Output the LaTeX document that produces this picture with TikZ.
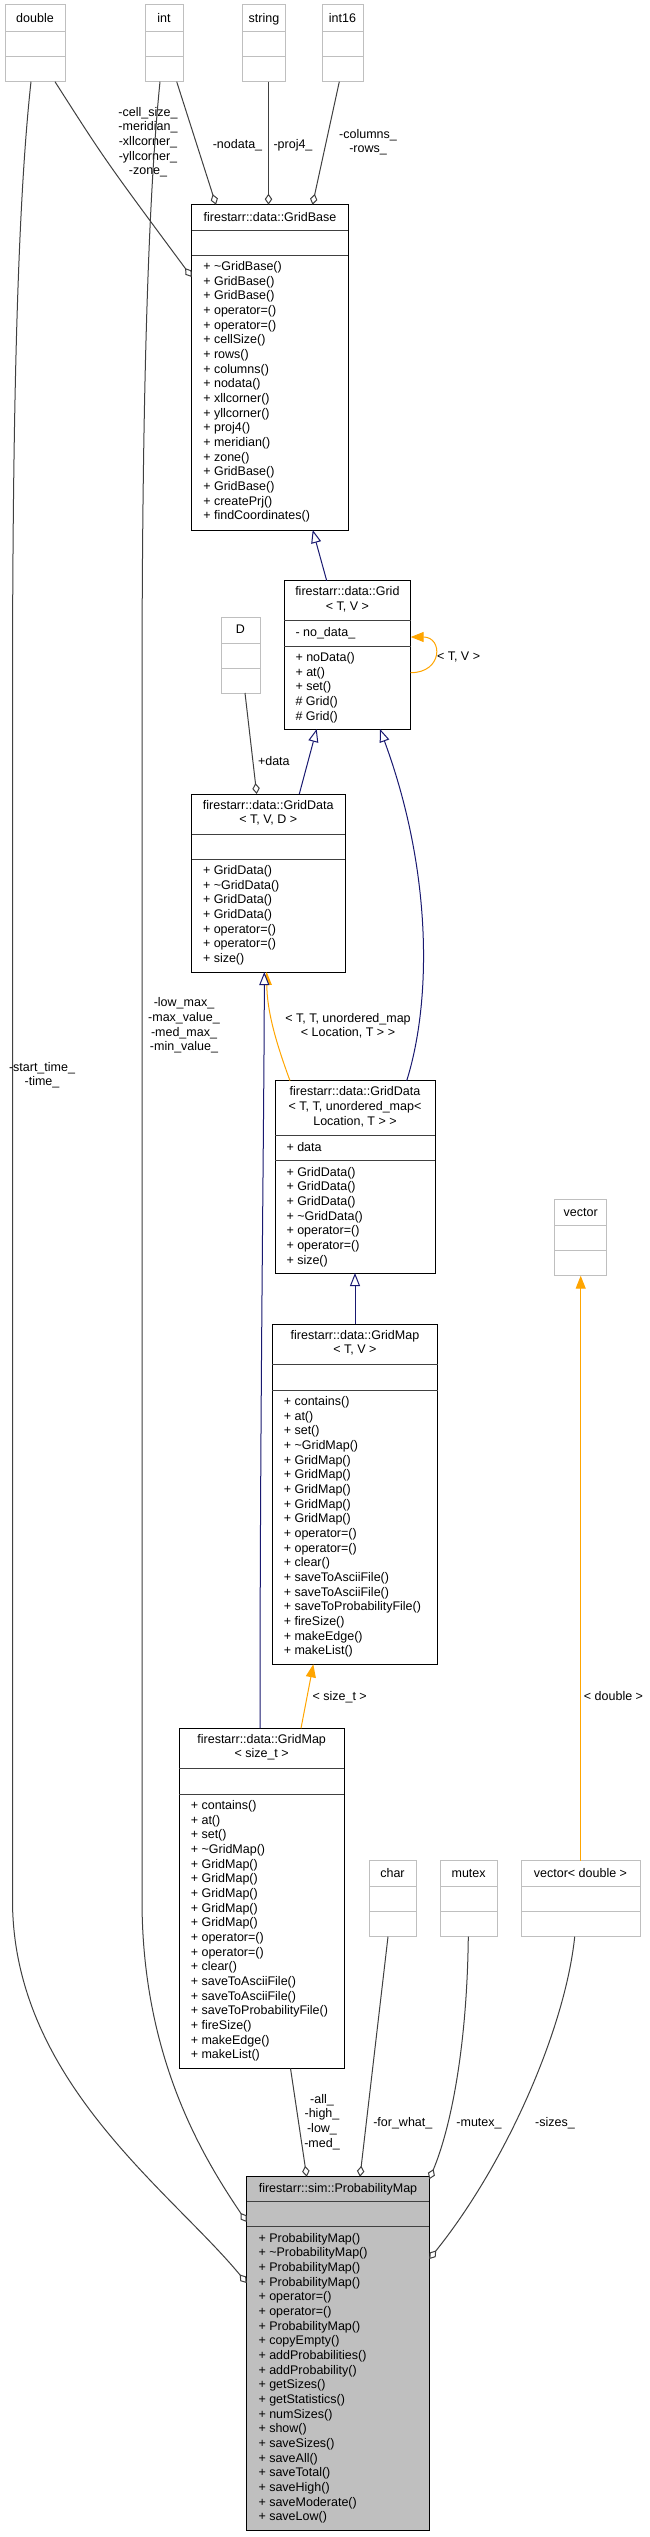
\documentclass[tikz,border=0pt]{standalone}
\usepackage{fontspec}
\setmainfont{Liberation Sans}
\usetikzlibrary{arrows.meta,calc}
\newcommand\dfont{\fontsize{12.5pt}{14.67pt}\selectfont}
\definecolor{boxgray}{HTML}{BFBFBF}
\definecolor{pmgray}{HTML}{BFBFBF}
\definecolor{sepgray}{HTML}{404040}
\definecolor{aggcol}{HTML}{404040}
\definecolor{inhcol}{HTML}{191970}
\definecolor{tmplcol}{HTML}{FFA500}
% name, style, x1, y1, x2, y2, sep1, sep2
\newcommand\clsbox[8]{%
  \node[#2, anchor=north west, minimum width={#5-#3}, minimum height={#6-#4}] (#1) at (#3,#4) {};
  \draw[#2 sep] (#3,#7) -- (#5,#7) (#3,#8) -- (#5,#8);
}
\tikzset{
  gbox/.style={draw=boxgray, line width=1pt, inner sep=0pt, outer sep=0pt, fill=white},
  gbox sep/.style={draw=boxgray, line width=1pt},
  cbox/.style={draw=black, line width=1pt, inner sep=0pt, outer sep=0pt, fill=white},
  cbox sep/.style={draw=sepgray, line width=1pt},
  pbox/.style={draw=black, line width=1pt, inner sep=0pt, outer sep=0pt, fill=pmgray},
  pbox sep/.style={draw=sepgray, line width=1pt},
  txt/.style={inner sep=0pt, outer sep=0pt, font=\dfont, align=center, anchor=north, execute at begin node=\strut},
  mem/.style={txt, align=left, anchor=north west},
  agg/.style={draw=aggcol, line width=1pt, -{Diamond[length=11pt,width=7.5pt,fill=white]}},
  inh/.style={draw=inhcol, line width=1pt, -{Triangle[length=13pt,width=10pt,fill=white]}},
  tmpl/.style={draw=tmplcol, line width=1pt, -{Triangle[length=13pt,width=10pt,fill=tmplcol]}},
}
\begin{document}
\begin{tikzpicture}[x=1pt, y=-1pt]
\fill[white] (0,0) rectangle (650,2537);
\useasboundingbox (0,0) rectangle (650,2537);

% ---------- external type boxes ----------
\clsbox{dbl}{gbox}{5}{5}{65}{81.7}{31.7}{56.7}
\node[txt] (tdbl) at (35,11.75) {double};
\clsbox{int}{gbox}{145}{5}{183}{81.7}{31.7}{56.7}
\node[txt] (tint) at (164,11.75) {int};
\clsbox{str}{gbox}{242.3}{5}{285.7}{81.7}{31.7}{56.7}
\node[txt] (tstr) at (264,11.75) {string};
\clsbox{i16}{gbox}{322}{5}{363}{81.7}{31.7}{56.7}
\node[txt] (ti16) at (342.5,11.75) {int16};

% ---------- GridBase ----------
\clsbox{gb}{cbox}{191.7}{204.7}{348.3}{530}{230}{255}
\node[txt] (tgb) at (270,210.75) {firestarr::data::GridBase};
\node[mem] (mgb) at (203.3,261.4) {+ \textasciitilde GridBase()\\+ GridBase()\\+ GridBase()\\+ operator=()\\+ operator=()\\+ cellSize()\\+ rows()\\+ columns()\\+ nodata()\\+ xllcorner()\\+ yllcorner()\\+ proj4()\\+ meridian()\\+ zone()\\+ GridBase()\\+ GridBase()\\+ createPrj()\\+ findCoordinates()};

% ---------- Grid ----------
\clsbox{grid}{cbox}{284}{580.7}{410.7}{729}{620}{646}
\node[txt] (tgrid) at (347.35,586.4) {firestarr::data::Grid\\< T, V >};
\node[mem] (agrid) at (295.5,626.4) {- no\_data\_};
\node[mem] (mgrid) at (295.5,652.4) {+ noData()\\+ at()\\+ set()\\\# Grid()\\\# Grid()};

% ---------- D ----------
\clsbox{dd}{gbox}{221}{617}{260}{693}{643}{668}
\node[txt] (tdd) at (240.5,623.4) {D};

% ---------- GridData<T,V,D> ----------
\clsbox{gd1}{cbox}{191.5}{794}{345}{972}{834}{859}
\node[txt] (tgd1) at (268.25,800.1) {firestarr::data::GridData\\< T, V, D >};
\node[mem] (mgd1) at (203,865.4) {+ GridData()\\+ \textasciitilde GridData()\\+ GridData()\\+ GridData()\\+ operator=()\\+ operator=()\\+ size()};

% ---------- GridData<T,T,unordered_map<...>> ----------
\clsbox{gd2}{cbox}{275}{1080.7}{435}{1273}{1135}{1160.7}
\node[txt] (tgd2) at (355,1086.6) {firestarr::data::GridData\\< T, T, unordered\_map<\\Location, T > >};
\node[mem] (agd2) at (286.5,1141.4) {+ data};
\node[mem] (mgd2) at (286.5,1167.1) {+ GridData()\\+ GridData()\\+ GridData()\\+ \textasciitilde GridData()\\+ operator=()\\+ operator=()\\+ size()};

% ---------- GridMap<T,V> ----------
\clsbox{gmtv}{cbox}{272.3}{1324.3}{437.7}{1664.3}{1364}{1390}
\node[txt] (tgmtv) at (355,1330.2) {firestarr::data::GridMap\\< T, V >};
\node[mem] (mgmtv) at (283.8,1396.4) {+ contains()\\+ at()\\+ set()\\+ \textasciitilde GridMap()\\+ GridMap()\\+ GridMap()\\+ GridMap()\\+ GridMap()\\+ GridMap()\\+ operator=()\\+ operator=()\\+ clear()\\+ saveToAsciiFile()\\+ saveToAsciiFile()\\+ saveToProbabilityFile()\\+ fireSize()\\+ makeEdge()\\+ makeList()};

% ---------- vector ----------
\clsbox{vec}{gbox}{554.7}{1199}{606.7}{1275.7}{1225.7}{1250.7}
\node[txt] (tvec) at (580.7,1205.75) {vector};

% ---------- GridMap<size_t> ----------
\clsbox{gms}{cbox}{179.3}{1728.3}{344}{2068.3}{1768}{1794}
\node[txt] (tgms) at (261.65,1734.2) {firestarr::data::GridMap\\< size\_t >};
\node[mem] (mgms) at (190.8,1800.4) {+ contains()\\+ at()\\+ set()\\+ \textasciitilde GridMap()\\+ GridMap()\\+ GridMap()\\+ GridMap()\\+ GridMap()\\+ GridMap()\\+ operator=()\\+ operator=()\\+ clear()\\+ saveToAsciiFile()\\+ saveToAsciiFile()\\+ saveToProbabilityFile()\\+ fireSize()\\+ makeEdge()\\+ makeList()};

% ---------- char, mutex, vector<double> ----------
\clsbox{chr}{gbox}{369}{1860.7}{416}{1936.7}{1886}{1911.7}
\node[txt] (tchr) at (392.5,1866.75) {char};
\clsbox{mtx}{gbox}{440}{1860.7}{497.3}{1936.7}{1886}{1911.7}
\node[txt] (tmtx) at (468.65,1866.75) {mutex};
\clsbox{vecd}{gbox}{521}{1860.7}{640}{1936.7}{1886}{1911.7}
\node[txt] (tvecd) at (580.5,1866.75) {vector< double >};

% ---------- ProbabilityMap ----------
\clsbox{pm}{pbox}{246.7}{2176.7}{429.3}{2530}{2201.7}{2226.7}
\node[txt] (tpm) at (338,2182.6) {firestarr::sim::ProbabilityMap};
\node[mem] (mpm) at (258.5,2233.1) {+ ProbabilityMap()\\+ \textasciitilde ProbabilityMap()\\+ ProbabilityMap()\\+ ProbabilityMap()\\+ operator=()\\+ operator=()\\+ ProbabilityMap()\\+ copyEmpty()\\+ addProbabilities()\\+ addProbability()\\+ getSizes()\\+ getStatistics()\\+ numSizes()\\+ show()\\+ saveSizes()\\+ saveAll()\\+ saveTotal()\\+ saveHigh()\\+ saveModerate()\\+ saveLow()};

% ---------- connectors ----------
% into GridBase
\draw[agg] ($(dbl.south west)+(50,0)$) .. controls (105,160) .. ($(gb.north west)+(0,72.3)$);
\draw[agg] ($(int.south west)+(31.7,0)$) -- ($(gb.north west)+(24.3,0)$);
\draw[agg] ($(str.south west)+(26.2,0)$) -- ($(gb.north west)+(76.8,0)$);
\draw[agg] ($(i16.south west)+(17.3,0)$) -- ($(gb.north west)+(120.8,0)$);
\node[txt] (lgb1) at (148,107.2) {-cell\_size\_\\-meridian\_\\-xllcorner\_\\-yllcorner\_\\-zone\_};
\node[txt] (lgb2) at (237.5,138.2) {-nodata\_};
\node[txt] (lgb3) at (293,138.2) {-proj4\_};
\node[txt] (lgb4) at (368,129.2) {-columns\_\\-rows\_};

% long lines into ProbabilityMap
\draw[agg] ($(dbl.south west)+(26,0)$) .. controls (18,200) and (12.5,400) .. (12.5,700) -- (12.5,1900) .. controls (12.5,2080) and (170,2190) .. ($(pm.north west)+(0,106.3)$);
\draw[agg] ($(int.south west)+(15,0)$) .. controls (148,200) and (142,400) .. (142,700) -- (142,1900) .. controls (142,2060) and (205,2160) .. ($(pm.north west)+(0,45.3)$);
\node[txt] (lpm1) at (42,1062) {-start\_time\_\\-time\_};
\node[txt] (lpm2) at (184,997.7) {-low\_max\_\\-max\_value\_\\-med\_max\_\\-min\_value\_};

% Grid
\draw[inh] ($(grid.north west)+(42.7,0)$) -- ($(gb.south west)+(121,0)$);
\draw[tmpl] ($(grid.north east)+(0,92)$) .. controls (443,672.7) and (443,637) .. ($(grid.north east)+(0,56.3)$);
\node[txt, anchor=north west] (lself) at (437,649.9) {< T, V >};

% GridData<T,V,D>
\draw[agg] ($(dd.south west)+(24,0)$) -- ($(gd1.north west)+(65.2,0)$);
\node[txt, anchor=north west] (ldata) at (258,754.9) {+data};
\draw[inh] ($(gd1.north west)+(107.8,0)$) -- ($(grid.south west)+(32.7,0)$);

% GridData<T,T,...>
\draw[inh] ($(gd2.north west)+(131.7,0)$) .. controls (432,1000) and (432,870) .. ($(grid.south west)+(96,0)$);
\draw[tmpl] ($(gd2.north west)+(15,0)$) .. controls (275,1040) and (267,1010) .. ($(gd1.south west)+(75.2,0)$);
\node[txt] (lgd2) at (348,1013.2) {< T, T, unordered\_map\\< Location, T > >};

% GridMap<size_t> inherits GridData
\draw[inh] ($(gms.north west)+(80.7,0)$) .. controls (260,1400) and (264.3,1100) .. ($(gd1.south west)+(72.8,0)$);

% GridMap<T,V>
\draw[inh] ($(gmtv.north west)+(82.7,0)$) -- ($(gd2.south west)+(80,0)$);
\draw[tmpl] ($(gms.north west)+(121.7,0)$) -- ($(gmtv.south west)+(41,0)$);
\node[txt] (lsz) at (339.7,1690.2) {< size\_t >};

% vector<double>
\draw[tmpl] ($(vecd.north west)+(59.7,0)$) -- ($(vec.south west)+(26,0)$);
\node[txt] (ldbl) at (613.5,1690.2) {< double >};

% into ProbabilityMap from below types
\draw[agg] ($(gms.south west)+(111.2,0)$) -- ($(pm.north west)+(60,0)$);
\node[txt] (lall) at (322,2094.2) {-all\_\\-high\_\\-low\_\\-med\_};
\draw[agg] ($(chr.south west)+(19,0)$) -- ($(pm.north west)+(113.3,0)$);
\node[txt] (lfor) at (402.8,2115.9) {-for\_what\_};
\draw[agg] ($(mtx.south west)+(28.3,0)$) .. controls (467,2050) and (450,2130) .. ($(pm.north east)+(0,2.5)$);
\node[txt] (lmtx) at (479,2115.9) {-mutex\_};
\draw[agg] ($(vecd.south west)+(53.7,0)$) .. controls (565,2030) and (505,2165) .. ($(pm.north east)+(0,82.3)$);
\node[txt] (lsizes) at (555,2115.9) {-sizes\_};
\end{tikzpicture}
\end{document}
